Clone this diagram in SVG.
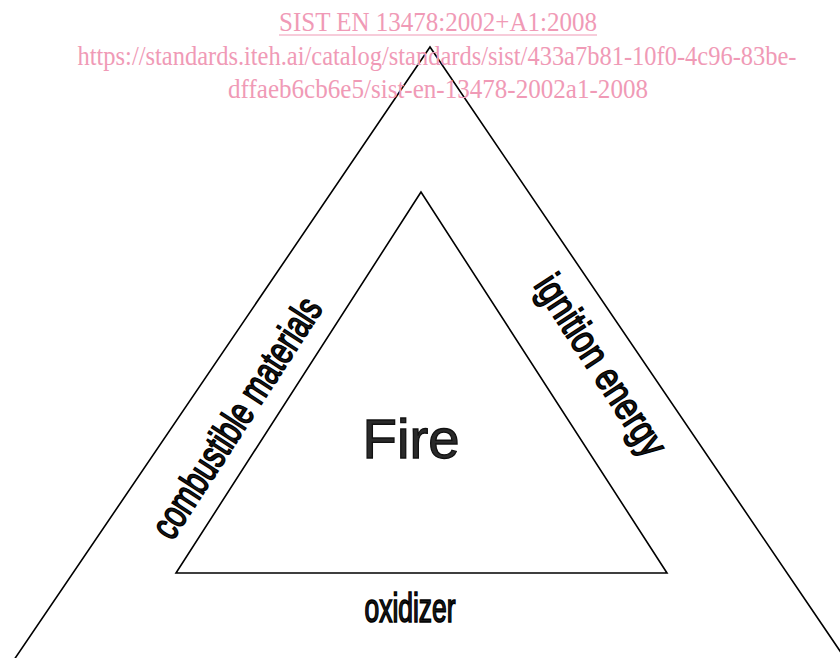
<svg xmlns="http://www.w3.org/2000/svg" width="840" height="658" viewBox="0 0 840 658">
<style>
.tri{fill:none;stroke:#000;stroke-width:1.6;stroke-linejoin:miter}
.lbl{font-family:"Liberation Sans",Arial,sans-serif;font-size:40px;fill:#1a1a1a;stroke:#000;stroke-width:1.6;text-anchor:middle}
.fire{font-family:"Liberation Sans",Arial,sans-serif;font-size:55px;fill:#2a2a2a;stroke:#111;stroke-width:1.3;text-anchor:middle}
.wm{font-family:"Liberation Serif","Times New Roman",serif;font-size:27px;fill:#f09ab6;text-anchor:middle}
</style>
<rect width="840" height="658" fill="#fff"/>
<g id="outer-triangle"><polygon class="tri" points="430,47 -18,707 878,707"/></g>
<g id="inner-triangle"><polygon class="tri" points="421,192 176,573 667,573"/></g>
<g id="fire"><text class="fire" x="411" y="458" textLength="97" lengthAdjust="spacingAndGlyphs">Fire</text></g>
<g id="combustible"><text class="lbl" transform="translate(237,418) rotate(-57)" x="0" y="13" textLength="278" lengthAdjust="spacingAndGlyphs">combustible materials</text></g>
<g id="ignition"><text class="lbl" transform="translate(598,367) rotate(57)" x="0" y="10" textLength="208" lengthAdjust="spacingAndGlyphs">ignition energy</text></g>
<g id="oxidizer"><text class="lbl" x="410" y="622" textLength="91" lengthAdjust="spacingAndGlyphs">oxidizer</text></g>
<g id="watermark">
<text class="wm" x="438" y="31" textLength="318" lengthAdjust="spacingAndGlyphs">SIST EN 13478:2002+A1:2008</text>
<line x1="279" y1="35" x2="597" y2="35" stroke="#f09ab6" stroke-width="1.2"/>
<text class="wm" x="437" y="65" textLength="719" lengthAdjust="spacingAndGlyphs">https://standards.iteh.ai/catalog/standards/sist/433a7b81-10f0-4c96-83be-</text>
<text class="wm" x="438" y="98" textLength="420" lengthAdjust="spacingAndGlyphs">dffaeb6cb6e5/sist-en-13478-2002a1-2008</text>
</g>
</svg>
